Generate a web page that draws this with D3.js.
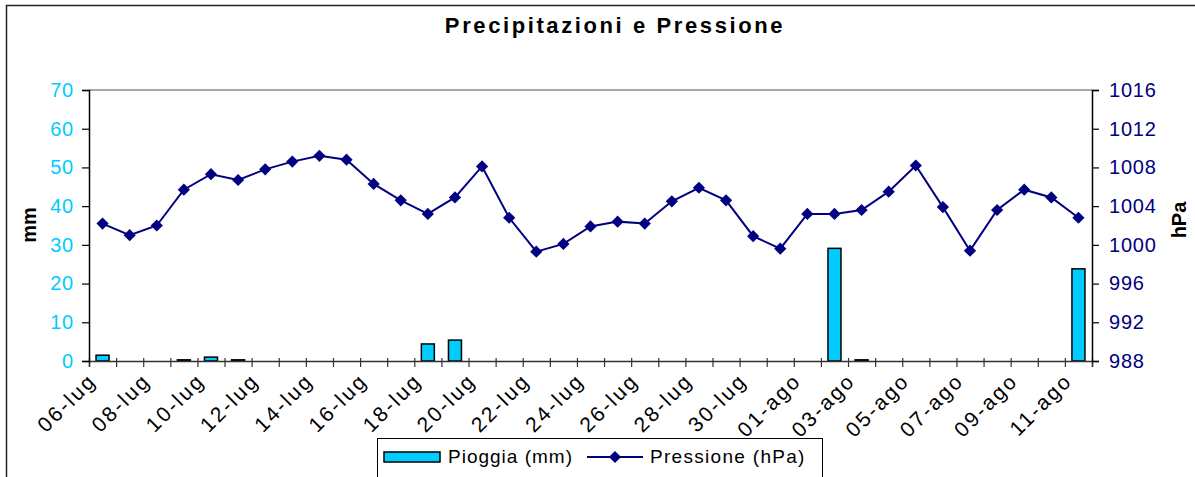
<!DOCTYPE html>
<html>
<head>
<meta charset="utf-8">
<script src="https://cdn.jsdelivr.net/npm/d3@7"></script>
<style>
  body { margin: 0; background: #fff; }
  svg { display: block; font-family: "Liberation Sans", Arial, sans-serif; }
</style>
</head>
<body>
<div id="chart"></div>
<script>
// data
const days = [
    '06-lug', '07-lug', '08-lug', '09-lug', '10-lug', '11-lug', '12-lug', '13-lug', '14-lug', '15-lug',
    '16-lug', '17-lug', '18-lug', '19-lug', '20-lug', '21-lug', '22-lug', '23-lug', '24-lug', '25-lug',
    '26-lug', '27-lug', '28-lug', '29-lug', '30-lug', '31-lug', '01-ago', '02-ago', '03-ago', '04-ago',
    '05-ago', '06-ago', '07-ago', '08-ago', '09-ago', '10-ago', '11-ago'];
const pioggia = [
    1.5, 0, 0, 0.3, 1.0, 0.3, 0, 0, 0, 0,
    0, 0, 4.4, 5.4, 0, 0, 0, 0, 0, 0,
    0, 0, 0, 0, 0, 0, 0, 29.1, 0.3, 0,
    0, 0, 0, 0, 0, 0, 23.8];
const pressione = [
    1002.2, 1001.0, 1002.0, 1005.7, 1007.3, 1006.7, 1007.8, 1008.6, 1009.2, 1008.8,
    1006.3, 1004.6, 1003.2, 1004.9, 1008.1, 1002.8, 999.3, 1000.1, 1001.9, 1002.4,
    1002.2, 1004.5, 1005.9, 1004.6, 1000.9, 999.6, 1003.2, 1003.2, 1003.6, 1005.5,
    1008.2, 1003.9, 999.4, 1003.6, 1005.7, 1004.9, 1002.8];
const mmTicks = [0, 10, 20, 30, 40, 50, 60, 70];
const hpaTicks = [988, 992, 996, 1000, 1004, 1008, 1012, 1016];

const W = 1195, H = 477;
const plot = {left: 89, right: 1092, top: 90, bottom: 361};
const CYAN = '#00ccff', NAVY = '#000080';

const svg = d3.select('#chart').append('svg')
    .attr('width', W)
    .attr('height', H);

// outer frame (runs off the right and bottom edges)
svg.append('rect')
    .attr('x', 6.5).attr('y', 5.5)
    .attr('width', W + 10).attr('height', H + 10)
    .attr('fill', '#fff')
    .attr('stroke', '#222')
    .attr('stroke-width', 1.5);

svg.append('text')
    .attr('x', 615).attr('y', 33)
    .attr('text-anchor', 'middle')
    .attr('font-size', 22)
    .attr('font-weight', 'bold')
    .attr('letter-spacing', 2.6)
    .text('Precipitazioni e Pressione');

const x = d3.scaleBand().domain(days).range([plot.left, plot.right]).paddingInner(0);
const yL = d3.scaleLinear().domain([0, 70]).range([plot.bottom, plot.top]);
const yR = d3.scaleLinear().domain([988, 1016]).range([plot.bottom, plot.top]);
const bw = x.bandwidth();

// top border of the plot area
svg.append('line')
    .attr('x1', plot.left).attr('x2', plot.right)
    .attr('y1', plot.top).attr('y2', plot.top)
    .attr('stroke', '#888').attr('stroke-width', 1.5);

// bars
svg.append('g').selectAll('rect')
    .data(days.filter((d, i) => pioggia[i] > 0))
    .join('rect')
    .attr('x', d => x(d) + bw / 2 - 6.5)
    .attr('width', 13)
    .attr('y', d => yL(pioggia[days.indexOf(d)]))
    .attr('height', d => Math.max(1, plot.bottom - yL(pioggia[days.indexOf(d)])))
    .attr('fill', CYAN)
    .attr('stroke', '#000')
    .attr('stroke-width', 1.5);

// bottom axis: ticks on the category boundaries
const xb = d3.scaleLinear().domain([0, days.length]).range([plot.left, plot.right]);
const xAxis = svg.append('g')
    .attr('transform', `translate(0,${plot.bottom})`)
    .call(d3.axisBottom(xb).tickValues(d3.range(days.length + 1)).tickSize(6).tickFormat(''));
xAxis.select('.domain').attr('stroke', '#333').attr('stroke-width', 1.5);
xAxis.selectAll('.tick line').attr('y1', -3).attr('stroke', '#333').attr('stroke-width', 1.2);

svg.append('g').selectAll('text')
    .data(days.filter((d, i) => i % 2 === 0))
    .join('text')
    .attr('transform', d => `translate(${x(d) + bw / 2 - 5},${plot.bottom + 21}) rotate(-45)`)
    .attr('text-anchor', 'end')
    .attr('font-size', 21)
    .attr('letter-spacing', 2.4)
    .attr('fill', '#000')
    .text(d => d);

// left axis
const leftAxis = svg.append('g')
    .attr('transform', `translate(${plot.left},0)`)
    .call(d3.axisLeft(yL).tickValues(mmTicks).tickSize(7).tickPadding(8));
leftAxis.select('.domain').attr('stroke', '#000').attr('stroke-width', 1.5);
leftAxis.selectAll('.tick line').attr('stroke', '#000').attr('stroke-width', 1.2);
leftAxis.selectAll('.tick text').attr('fill', CYAN).attr('font-size', 20)
    .attr('letter-spacing', 0.8)
    .attr('font-family', '"Liberation Sans", Arial, sans-serif');

// right axis
const rightAxis = svg.append('g')
    .attr('transform', `translate(${plot.right},0)`)
    .call(d3.axisRight(yR).tickValues(hpaTicks).tickSize(7).tickPadding(10).tickFormat(d3.format('d')));
rightAxis.select('.domain').attr('stroke', '#000').attr('stroke-width', 1.5);
rightAxis.selectAll('.tick line').attr('stroke', '#000').attr('stroke-width', 1.2);
rightAxis.selectAll('.tick text').attr('fill', NAVY).attr('font-size', 20)
    .attr('letter-spacing', 0.8)
    .attr('font-family', '"Liberation Sans", Arial, sans-serif');

// axis titles
svg.append('text')
    .attr('transform', 'translate(36,225) rotate(-90)')
    .attr('text-anchor', 'middle')
    .attr('font-size', 20).attr('font-weight', 'bold')
    .text('mm');
svg.append('text')
    .attr('transform', 'translate(1186,220) rotate(-90)')
    .attr('text-anchor', 'middle')
    .attr('font-size', 20).attr('font-weight', 'bold')
    .text('hPa');

// pressure line
const line = d3.line()
    .x((d, i) => x(days[i]) + bw / 2)
    .y(d => yR(d));
svg.append('path')
    .datum(pressione)
    .attr('d', line)
    .attr('fill', 'none')
    .attr('stroke', NAVY)
    .attr('stroke-width', 2);

const diamond = d3.symbol().type(d3.symbolDiamond2).size(95);
svg.append('g').selectAll('path')
    .data(pressione)
    .join('path')
    .attr('transform', (d, i) => `translate(${x(days[i]) + bw / 2},${yR(d)})`)
    .attr('d', diamond)
    .attr('fill', NAVY);

// legend
const lg = svg.append('g');
lg.append('rect')
    .attr('x', 377.5).attr('y', 438.5)
    .attr('width', 445).attr('height', 60)
    .attr('fill', '#fff').attr('stroke', '#000').attr('stroke-width', 1);
lg.append('rect')
    .attr('x', 384).attr('y', 452)
    .attr('width', 56).attr('height', 10)
    .attr('fill', CYAN).attr('stroke', '#000').attr('stroke-width', 1.5);
lg.append('text')
    .attr('x', 448).attr('y', 463)
    .attr('font-size', 19)
    .attr('letter-spacing', 1)
    .text('Pioggia (mm)');
lg.append('line')
    .attr('x1', 587).attr('x2', 643)
    .attr('y1', 457).attr('y2', 457)
    .attr('stroke', NAVY).attr('stroke-width', 2);
lg.append('path')
    .attr('transform', 'translate(615,457)')
    .attr('d', diamond)
    .attr('fill', NAVY);
lg.append('text')
    .attr('x', 650).attr('y', 463)
    .attr('font-size', 19)
    .attr('letter-spacing', 1.3)
    .text('Pressione (hPa)');
</script>
</body>
</html>
